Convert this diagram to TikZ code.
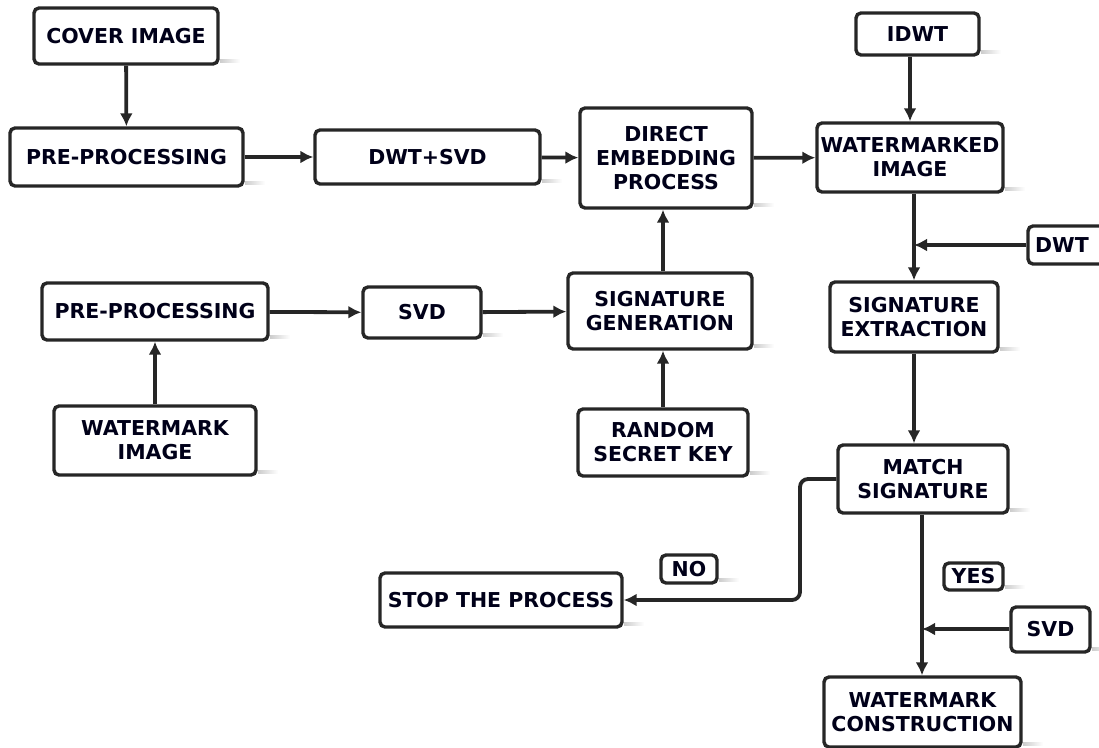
\documentclass[tikz,border=0pt]{standalone}
\usepackage{fontspec}
\setmainfont{DejaVu Sans}
\usetikzlibrary{arrows.meta,fadings,calc}
\begin{document}
\begin{tikzpicture}[x=1pt,y=-1pt,
  box/.style={draw=black!85, line width=3.4pt, rounded corners=5pt, fill=white,
    font=\bfseries\fontsize{20.5}{24}\selectfont, align=center, inner sep=0pt, text=black!90!blue},
  conn/.style={draw=black!85, line width=3.8pt, -{Latex[length=13pt,width=13pt]}},
  plain/.style={draw=black!85, line width=3.8pt}
]
\useasboundingbox (0,0) rectangle (1099,747);
\newcommand{\bx}[6]{%
  \fill[gray!40,path fading=east] (#3+2,#5-5) rectangle (#3+22,#5-1);
  \node[box, minimum width=#3-#2, minimum height=#5-#4] (#1) at ({(#2+#3)/2},{(#4+#5)/2}) {#6};}
\bx{cover}{34}{218}{8}{64}{COVER IMAGE}
\bx{pre1}{10}{243}{128}{186}{PRE-PROCESSING}
\bx{dwtsvd}{315}{540}{130}{184}{DWT+SVD}
\bx{direct}{580}{752}{108}{208}{DIRECT\\EMBEDDING\\PROCESS}
\bx{idwt}{856}{979}{13}{55}{IDWT}
\bx{wmimg}{817}{1003}{123}{192}{WATERMARKED\\IMAGE}
\bx{dwt}{1028}{1112}{226}{264}{\hspace*{-16pt}DWT}
\bx{sigext}{830}{998}{282}{352}{SIGNATURE\\EXTRACTION}
\bx{pre2}{42}{268}{283}{340}{PRE-PROCESSING}
\bx{svd1}{363}{481}{287}{338}{SVD}
\bx{siggen}{568}{752}{273}{349}{SIGNATURE\\GENERATION}
\bx{wimg}{54}{256}{406}{475}{WATERMARK\\IMAGE}
\bx{rkey}{578}{748}{409}{476}{RANDOM\\SECRET KEY}
\bx{match}{838}{1008}{445}{513}{MATCH\\SIGNATURE}
\bx{no}{661}{717}{555}{583}{NO}
\bx{stop}{380}{622}{573}{627}{STOP THE PROCESS}
\bx{yes}{944}{1003}{563}{590}{YES}
\bx{svd2}{1011}{1090}{607}{652}{SVD}
\bx{wcons}{824}{1021}{677}{747}{WATERMARK\\CONSTRUCTION}

\draw[conn] (cover) -- (pre1);
\draw[conn] (pre1) -- (dwtsvd);
\draw[conn] (dwtsvd) -- (direct);
\draw[conn] (direct) -- (wmimg);
\draw[conn] (idwt.south -| wmimg.north) -- (wmimg.north);
\draw[conn] (wmimg.south -| sigext.north) -- (sigext.north);
\coordinate (j1) at (914,245);
\draw[conn] (dwt.west |- j1) -- (j1);
\draw[conn] (pre2) -- (svd1);
\draw[conn] (svd1) -- (siggen);
\draw[conn] (wimg) -- (pre2);
\draw[conn] (rkey.north -| 663,0) -- (siggen.south -| 663,0);
\draw[conn] (siggen.north -| 663,0) -- (direct.south -| 663,0);
\draw[conn] (sigext.south -| 914,0) -- (match.north -| 914,0);
\coordinate (c1) at (800,479);
\coordinate (c2) at (800,600);
\draw[conn, rounded corners=8pt] (match.west) -- (c1) -- (c2) -- (stop.east);
\draw[conn] (match.south -| 922,0) -- (wcons.north -| 922,0);
\coordinate (j2) at (922,629);
\draw[conn] (svd2.west |- j2) -- (j2);
\end{tikzpicture}
\end{document}
